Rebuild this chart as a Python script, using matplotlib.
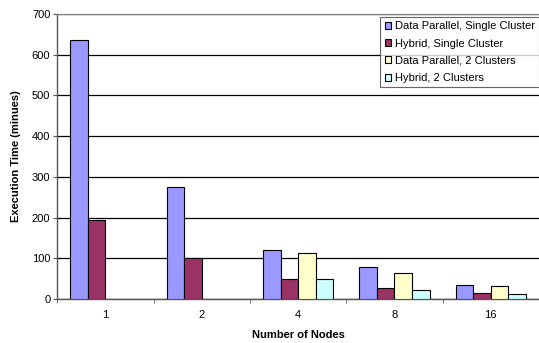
import numpy as np
import matplotlib.pyplot as plt

plt.rcParams["font.family"] = ["Liberation Sans", "DejaVu Sans"]

NODES = ["1", "2", "4", "8", "16"]
SERIES_NAMES = [
    "Data Parallel, Single Cluster",
    "Hybrid, Single Cluster",
    "Data Parallel, 2 Clusters",
    "Hybrid, 2 Clusters",
]
DP_SINGLE = [635, 274, 120, 78, 34]
HYBRID_SINGLE = [193, 100, 49, 26, 14]
DP_TWO = [np.nan, np.nan, 114, 63, 33]
HYBRID_TWO = [np.nan, np.nan, 49, 21, 13]
COLORS = ["#9999FF", "#993366", "#FFFFCC", "#CCFFFF"]


def main():
    fig = plt.figure(figsize=(5.39, 3.43), dpi=100)
    ax = fig.add_axes([57.3 / 539, 1 - 299 / 343, (539 - 57.3) / 539, 285 / 343])

    series = [DP_SINGLE, HYBRID_SINGLE, DP_TWO, HYBRID_TWO]
    x = np.arange(len(NODES))
    width = 1 / 5.5
    for i, (name, values, color) in enumerate(zip(SERIES_NAMES, series, COLORS)):
        offset = (i - 1.5) * width
        ax.bar(x + offset, values, width, label=name, color=color,
               edgecolor="black", linewidth=0.8, zorder=3)

    ax.set_xlim(-0.5, len(NODES) - 0.5)
    ax.set_ylim(0, 700)
    ax.set_yticks(range(0, 701, 100))
    ax.yaxis.grid(True, color="black", linewidth=0.9, zorder=0)

    ax.set_xticks(x)
    ax.set_xticklabels(NODES)
    ax.set_xticks(np.arange(-0.5, len(NODES), 1), minor=True)
    ax.tick_params(axis="x", which="major", length=0, pad=8, labelsize=8)
    ax.tick_params(axis="x", which="minor", length=3, direction="out", color="#555555")
    ax.tick_params(axis="y", length=3, direction="out", labelsize=8, color="#555555", pad=2)

    for side in ["left", "bottom"]:
        ax.spines[side].set_color("#555555")
        ax.spines[side].set_linewidth(1.0)
    ax.spines["top"].set_color("#808080")
    ax.spines["right"].set_visible(False)

    ax.set_ylabel("Execution Time (minues)", fontsize=8, fontweight="bold", labelpad=8)
    ax.set_xlabel("Number of Nodes", fontsize=8, fontweight="bold", labelpad=7)

    leg = ax.legend(loc="upper right", bbox_to_anchor=(1.0, 0.99), fontsize=8,
                    frameon=True, fancybox=False, edgecolor="#404040",
                    handlelength=0.6, handleheight=0.6, handletextpad=0.3,
                    borderpad=0.4, labelspacing=0.65, borderaxespad=0.0)
    leg.get_frame().set_linewidth(0.8)

    fig.savefig("out.png", dpi=100)
    plt.close(fig)


if __name__ == "__main__":
    main()
